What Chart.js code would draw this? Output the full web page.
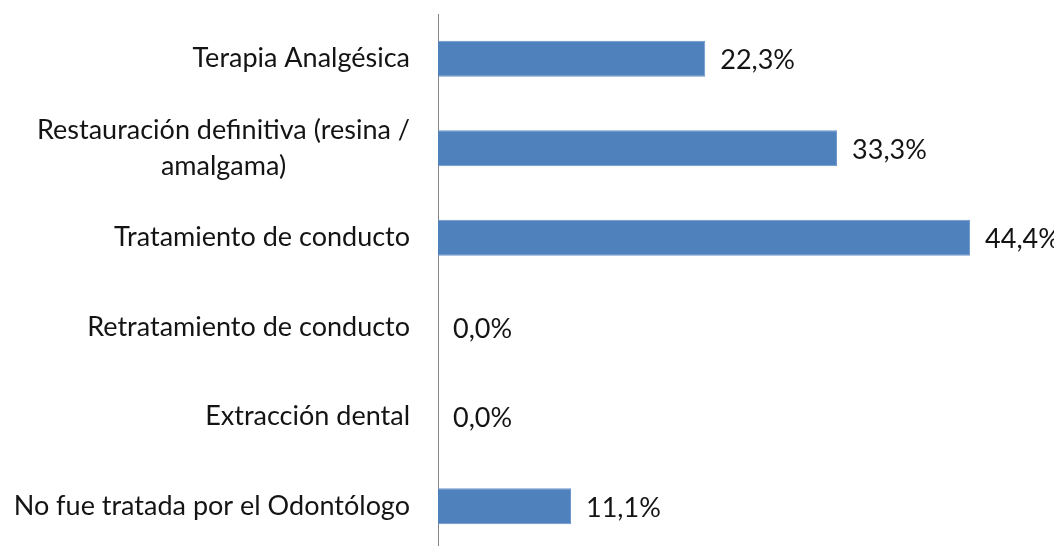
<!DOCTYPE html>
<html>
<head>
<meta charset="utf-8">
<script src="https://cdn.jsdelivr.net/npm/chart.js@4"></script>
<style>
  html, body { margin: 0; padding: 0; background: #fff; overflow: hidden; }
  canvas { display: block; }
</style>
</head>
<body>
<canvas id="grafico" width="1054" height="560"></canvas>
<script>
// categorias (una linea por entrada, varias lineas = array)
const categorias = [
  ['Terapia Analgésica'],
  ['Restauración definitiva (resina /', 'amalgama)'],
  ['Tratamiento de conducto'],
  ['Retratamiento de conducto'],
  ['Extracción dental'],
  ['No fue tratada por el Odontólogo']
]
const porcentajes = [22.3, 33.3, 44.4, 0.0, 0.0, 11.1]

const fuente = '27px Lato'
const colorTexto = '#141414'

// etiquetas del eje y, alineadas a la derecha, lineas centradas entre si
const etiquetasEje = {
  id: 'etiquetasEje',
  afterDraw(chart) {
    const ctx = chart.ctx
    const y = chart.scales.y
    const derecha = chart.chartArea.left - 28
    ctx.save()
    ctx.font = fuente
    ctx.fillStyle = colorTexto
    ctx.textAlign = 'center'
    ctx.textBaseline = 'middle'
    categorias.forEach((lineas, i) => {
      const yc = y.getPixelForValue(i)
      const ancho = Math.max(...lineas.map(l => ctx.measureText(l).width))
      const xc = derecha - ancho / 2
      const alto = 36
      lineas.forEach((l, j) => {
        ctx.fillText(l, xc, yc + (j - (lineas.length - 1) / 2) * alto)
      })
    })
    ctx.restore()
  }
}

// valores al final de cada barra
const etiquetasValor = {
  id: 'etiquetasValor',
  afterDatasetsDraw(chart) {
    const ctx = chart.ctx
    const meta = chart.getDatasetMeta(0)
    ctx.save()
    ctx.font = fuente
    ctx.fillStyle = colorTexto
    ctx.textAlign = 'left'
    ctx.textBaseline = 'middle'
    meta.data.forEach((barra, i) => {
      const texto = porcentajes[i].toFixed(1).replace('.', ',') + '%'
      ctx.fillText(texto, barra.x + 15, barra.y + 2)
    })
    ctx.restore()
  }
}

const ctx = document.getElementById('grafico')
new Chart(ctx, {
  type: 'bar',
  data: {
    labels: categorias.map(c => c.join(' ')),
    datasets: [{
      data: porcentajes,
      backgroundColor: '#4f81bd',
      borderColor: '#6a96cb',
      borderWidth: 1,
      categoryPercentage: 1,
      barPercentage: 0.4
    }]
  },
  options: {
    indexAxis: 'y',
    responsive: false,
    animation: false,
    devicePixelRatio: 1,
    layout: { padding: { left: 438, top: 14, right: 0, bottom: 9 } },
    plugins: { legend: { display: false }, tooltip: { enabled: false } },
    scales: {
      x: { display: false, min: 0, max: 51.4 },
      y: {
        display: true,
        ticks: { display: false },
        grid: { display: false, drawTicks: false },
        border: { display: true, color: '#868686', width: 1 }
      }
    }
  },
  plugins: [etiquetasEje, etiquetasValor]
})
</script>
</body>
</html>
